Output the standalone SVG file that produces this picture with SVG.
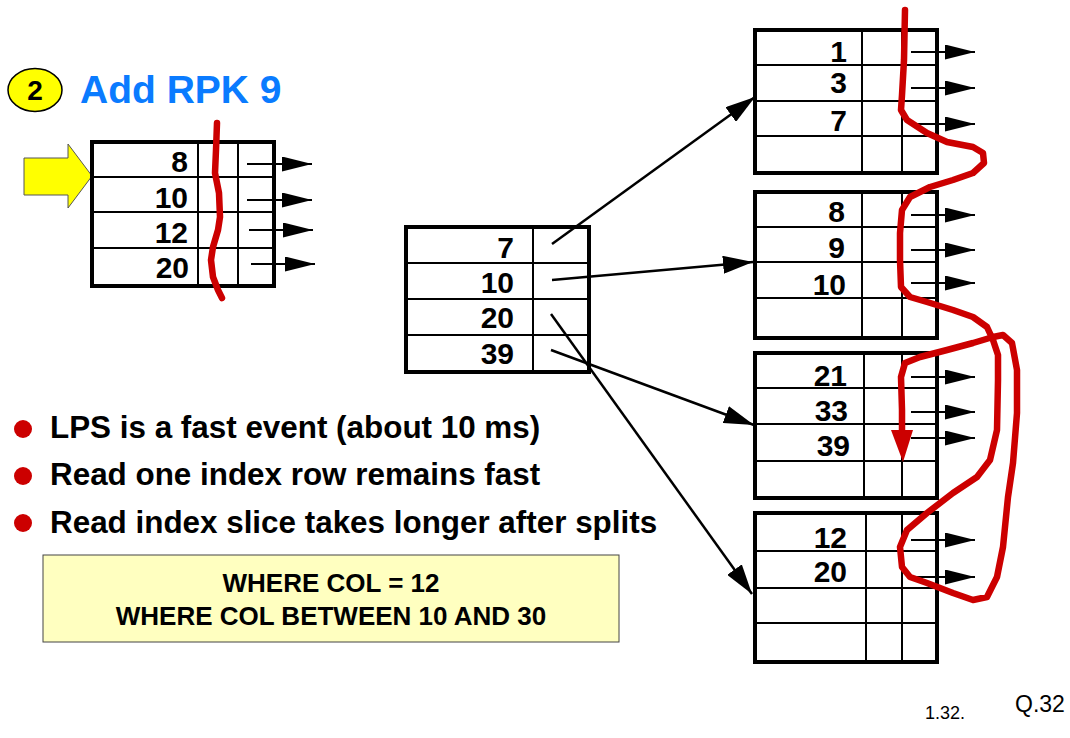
<svg xmlns="http://www.w3.org/2000/svg" width="1070" height="738" viewBox="0 0 1070 738">
<style>
.box{fill:none;stroke:#000;stroke-width:4}
.grid{stroke:#000;stroke-width:2;fill:none}
.num{font-family:"Liberation Sans",Arial,sans-serif;font-weight:bold;font-size:30px;text-anchor:end;fill:#000}
.ptr{stroke:#000;stroke-width:2;fill:none;marker-end:url(#small)}
.conn{stroke:#000;stroke-width:2.5;fill:none;marker-end:url(#big)}
.red{stroke:#CC0000;stroke-width:6.5;fill:none;stroke-linecap:round;stroke-linejoin:round}
.bul{font-family:"Liberation Sans",Arial,sans-serif;font-weight:bold;font-size:31.4px;fill:#000}
.q{font-family:"Liberation Sans",Arial,sans-serif;font-weight:bold;font-size:26px;fill:#000;text-anchor:middle}
.dot{fill:#CC0000}
</style>
<defs>
<marker id="small" markerUnits="userSpaceOnUse" markerWidth="30" markerHeight="15" viewBox="0 0 30 15" refX="30" refY="7.5" orient="auto"><path d="M0,0 L30,7.5 L0,15 z" fill="#000"/></marker>
<marker id="big" markerUnits="userSpaceOnUse" markerWidth="30" markerHeight="18" viewBox="0 0 30 18" refX="30" refY="9" orient="auto"><path d="M0,0 L30,9 L0,18 z" fill="#000"/></marker>
</defs>
<rect width="1070" height="738" fill="#fff"/>

<g id="step-badge">
<ellipse cx="35" cy="90" rx="27" ry="21.5" fill="#FFFF00" stroke="#000" stroke-width="1.5"/>
<text x="35" y="100" font-family="Liberation Sans,Arial,sans-serif" font-weight="bold" font-size="28" text-anchor="middle">2</text>
<text x="80" y="103" font-family="Liberation Sans,Arial,sans-serif" font-weight="bold" font-size="39" fill="#0A7BFF">Add RPK 9</text>
</g>

<g id="yellow-arrow">
<polygon points="24,158 68,158 68,144 92,176 68,208 68,195 24,195" fill="#FFFF00" stroke="#555" stroke-width="1"/>
</g>

<g id="left-block">
<path class="grid" d="M92,177 H274 M92,212 H274 M92,248 H274 M198,142 V286 M238,142 V286"/>
<rect class="box" x="92" y="142" width="182" height="144"/>
<text class="num" x="188" y="172">8</text>
<text class="num" x="188" y="208">10</text>
<text class="num" x="188" y="243">12</text>
<text class="num" x="189" y="278">20</text>
<line class="ptr" x1="247" y1="164" x2="312" y2="164"/>
<line class="ptr" x1="247" y1="200" x2="312" y2="200"/>
<line class="ptr" x1="249" y1="230" x2="313" y2="230"/>
<line class="ptr" x1="251" y1="264" x2="315" y2="264"/>
</g>

<g id="middle-block">
<path class="grid" d="M406,263 H589 M406,299 H589 M406,335 H589 M533,227 V372"/>
<rect class="box" x="406" y="227" width="183" height="145"/>
<text class="num" x="514" y="258">7</text>
<text class="num" x="514" y="293">10</text>
<text class="num" x="514" y="328">20</text>
<text class="num" x="514" y="364">39</text>
</g>

<g id="block-1">
<path class="grid" d="M755,65 H937 M755,101 H937 M755,136 H937 M862,30 V173 M902,30 V173"/>
<rect class="box" x="755" y="30" width="182" height="143"/>
<text class="num" x="847" y="62">1</text>
<text class="num" x="847" y="93">3</text>
<text class="num" x="847" y="131">7</text>
<line class="ptr" x1="911" y1="52" x2="975" y2="52"/>
<line class="ptr" x1="911" y1="88" x2="975" y2="88"/>
<line class="ptr" x1="911" y1="124" x2="975" y2="124"/>
</g>

<g id="block-2">
<path class="grid" d="M755,227 H937 M755,262 H937 M755,298 H937 M862,192 V338 M902,192 V338"/>
<rect class="box" x="755" y="192" width="182" height="146"/>
<text class="num" x="845" y="222">8</text>
<text class="num" x="845" y="258">9</text>
<text class="num" x="846" y="295">10</text>
<line class="ptr" x1="911" y1="215" x2="975" y2="215"/>
<line class="ptr" x1="911" y1="250" x2="975" y2="250"/>
<line class="ptr" x1="911" y1="283" x2="975" y2="283"/>
</g>

<g id="block-3">
<path class="grid" d="M755,388 H937 M755,424 H937 M755,461 H937 M864,353 V498 M902,353 V498"/>
<rect class="box" x="755" y="353" width="182" height="145"/>
<text class="num" x="847" y="386">21</text>
<text class="num" x="848" y="421">33</text>
<text class="num" x="850" y="456">39</text>
<line class="ptr" x1="911" y1="377" x2="975" y2="377"/>
<line class="ptr" x1="911" y1="412" x2="975" y2="412"/>
<line class="ptr" x1="911" y1="438" x2="975" y2="438"/>
</g>

<g id="block-4">
<path class="grid" d="M755,551 H937 M755,588 H937 M755,623 H937 M866,513 V662 M902,513 V662"/>
<rect class="box" x="755" y="513" width="182" height="149"/>
<text class="num" x="847" y="548">12</text>
<text class="num" x="847" y="582">20</text>
<line class="ptr" x1="911" y1="540" x2="975" y2="540"/>
<line class="ptr" x1="911" y1="577" x2="975" y2="577"/>
</g>

<g id="connectors">
<line class="conn" x1="552" y1="244" x2="755" y2="97"/>
<line class="conn" x1="552" y1="280" x2="753" y2="262"/>
<line class="conn" x1="551" y1="314" x2="752" y2="594"/>
<line class="conn" x1="551" y1="350" x2="754" y2="425"/>
</g>

<g id="scan-path">
<polyline class="red" points="217,123 216,150 215,173 219,193 220,217 218,230 213,247 211,260 213,277 218,290 222,298"/>
<polyline class="red" points="905,10 904,60 902,95 901,110 907,120 927,133 947,142 973,147 983,153 984,163 973,173 953,180 930,187 910,197 902,210 900,233 900,260 901,287 910,297 927,302 953,310 973,317 987,327 993,340 998,355 998,380 997,430 990,460 977,477 953,493 927,513 907,530 900,547 902,567 910,577 927,583 953,593 973,600 987,597 997,577 1003,547 1008,497 1013,463 1017,413 1017,370 1012,343 1003,335 993,337 973,343 947,350 920,357 905,363 901,377 902,410 902,432"/>
<polygon points="891,430 913,430 903,462" fill="#CC0000"/>
</g>

<g id="bullets">
<circle class="dot" cx="23" cy="429" r="9"/>
<text class="bul" x="50" y="438">LPS is a fast event (about 10 ms)</text>
<circle class="dot" cx="23" cy="476" r="9"/>
<text class="bul" x="50" y="485">Read one index row remains fast</text>
<circle class="dot" cx="23" cy="523" r="9"/>
<text class="bul" x="50" y="533">Read index slice takes longer after splits</text>
</g>

<g id="query-box">
<rect x="43" y="555" width="576" height="87" fill="#FFFFC0" stroke="#444" stroke-width="1"/>
<text class="q" x="331" y="592">WHERE COL = 12</text>
<text class="q" x="331" y="625">WHERE COL BETWEEN 10 AND 30</text>
</g>

<g id="footer">
<text x="925" y="719" font-family="Liberation Sans,Arial,sans-serif" font-size="18">1.32.</text>
<text x="1015" y="712" font-family="Liberation Sans,Arial,sans-serif" font-size="23">Q.32</text>
</g>
</svg>
